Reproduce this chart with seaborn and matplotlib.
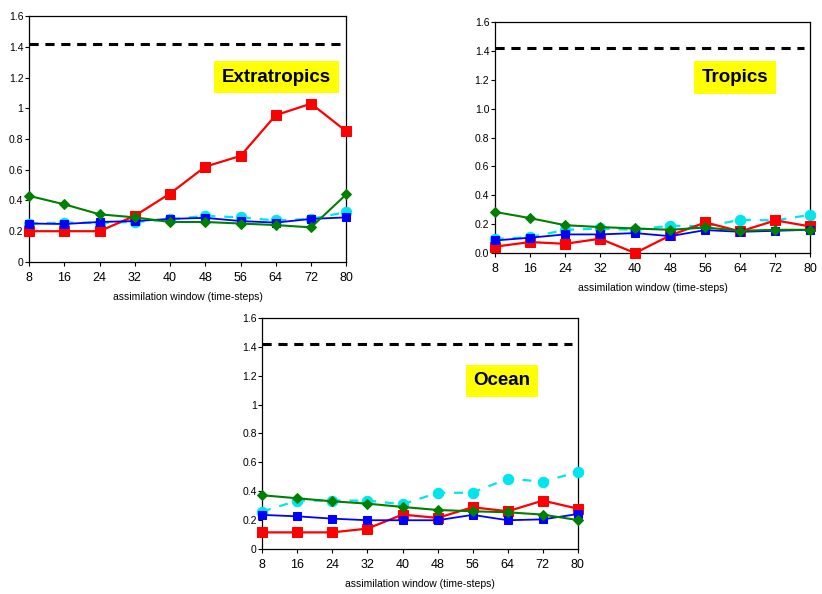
import numpy as np
import pandas as pd
import seaborn as sns
import matplotlib
matplotlib.use("Agg")
import matplotlib.pyplot as plt

# assimilation window (time-steps)
windows = [8, 16, 24, 32, 40, 48, 56, 64, 72, 80]

# Extratropics
extra_red = [0.20, 0.20, 0.20, 0.30, 0.445, 0.62, 0.69, 0.955, 1.03, 0.85]
extra_green = [0.43, 0.375, 0.31, 0.29, 0.26, 0.26, 0.25, 0.24, 0.225, 0.44]
extra_blue = [0.25, 0.247, 0.26, 0.266, 0.28, 0.287, 0.266, 0.256, 0.28, 0.29]
extra_cyan = [0.25, 0.256, 0.255, 0.26, 0.277, 0.30, 0.29, 0.27, 0.28, 0.325]

# Tropics
trop_red = [0.044, 0.076, 0.064, 0.099, 0.0, 0.122, 0.212, 0.15, 0.226, 0.184]
trop_green = [0.285, 0.242, 0.193, 0.18, 0.17, 0.161, 0.177, 0.154, 0.161, 0.161]
trop_blue = [0.087, 0.106, 0.129, 0.129, 0.138, 0.117, 0.159, 0.147, 0.154, 0.161]
trop_cyan = [0.097, 0.11, 0.16, 0.17, 0.16, 0.19, 0.184, 0.23, 0.226, 0.265]

# Ocean
ocean_red = [0.115, 0.115, 0.115, 0.141, 0.238, 0.215, 0.289, 0.261, 0.335, 0.279]
ocean_green = [0.372, 0.351, 0.33, 0.314, 0.291, 0.27, 0.261, 0.254, 0.238, 0.20]
ocean_blue = [0.236, 0.226, 0.21, 0.199, 0.199, 0.199, 0.236, 0.199, 0.205, 0.242]
ocean_cyan = [0.259, 0.335, 0.335, 0.335, 0.31, 0.388, 0.39, 0.487, 0.466, 0.533]

reference_level = 1.42

yticks = [0, 0.2, 0.4, 0.6, 0.8, 1.0, 1.2, 1.4, 1.6]
ylabels_short = ["0", "0.2", "0.4", "0.6", "0.8", "1", "1.2", "1.4", "1.6"]
ylabels_fixed = ["0.0", "0.2", "0.4", "0.6", "0.8", "1.0", "1.2", "1.4", "1.6"]

sns.set_style("ticks")
plt.rcParams["font.family"] = ["Liberation Sans", "DejaVu Sans"]
plt.rcParams["text.color"] = "black"
plt.rcParams["axes.labelcolor"] = "black"
plt.rcParams["xtick.color"] = "black"
plt.rcParams["ytick.color"] = "black"

# series styles: drawn in this order (cyan at bottom, green on top)
styles = {
    "cyan": dict(color="#00e5ee", marker="o", markersize=7.5, linewidth=1.6, linestyle=(0, (4, 4))),
    "red": dict(color="#ff0000", marker="s", markersize=6.5, linewidth=1.6, linestyle="-"),
    "blue": dict(color="#0000ff", marker="s", markersize=5.2, linewidth=1.3, linestyle="-"),
    "green": dict(color="#008000", marker="D", markersize=5, linewidth=1.5, linestyle="-"),
}

panels = [
    ("Extratropics", [0.0353, 0.559, 0.386, 0.414], ylabels_short,
     {"red": extra_red, "green": extra_green, "blue": extra_blue, "cyan": extra_cyan}, (0.78, 0.752)),
    ("Tropics", [0.602, 0.574, 0.384, 0.389], ylabels_fixed,
     {"red": trop_red, "green": trop_green, "blue": trop_blue, "cyan": trop_cyan}, (0.76, 0.76)),
    ("Ocean", [0.319, 0.0758, 0.384, 0.389], ylabels_short,
     {"red": ocean_red, "green": ocean_green, "blue": ocean_blue, "cyan": ocean_cyan}, (0.76, 0.727)),
]

fig = plt.figure(figsize=(8.22, 5.94), dpi=100)

for title, rect, ylabels, series, label_pos in panels:
    ax = fig.add_axes(rect)
    df = pd.DataFrame({"window": windows, **series})
    for name in ["cyan", "red", "blue", "green"]:
        st = styles[name]
        sns.lineplot(data=df, x="window", y=name, ax=ax, color=st["color"],
                     marker=st["marker"], markersize=st["markersize"],
                     markeredgecolor=st["color"], linewidth=st["linewidth"],
                     linestyle=st["linestyle"], clip_on=False, zorder=3)
    ax.axhline(reference_level, color="black", linewidth=2.2,
               linestyle=(0, (3, 2.2)), xmax=0.98, zorder=2)
    ax.set_xlim(8, 80)
    ax.set_ylim(0, 1.6)
    ax.set_xticks(windows)
    ax.set_yticks(yticks)
    ax.set_yticklabels(ylabels)
    ax.tick_params(axis="y", labelsize=7.5, length=3, width=0.8, pad=1)
    ax.tick_params(axis="x", labelsize=9, length=3, width=0.8, pad=4)
    ax.set_ylabel("")
    ax.set_xlabel("assimilation window (time-steps)", fontsize=7.5, labelpad=6)
    for sp in ax.spines.values():
        sp.set_visible(True)
        sp.set_linewidth(0.9)
        sp.set_color("black")
    ax.text(label_pos[0], label_pos[1], title, transform=ax.transAxes,
            ha="center", va="center", fontsize=13.5, fontweight="bold", color="black",
            bbox=dict(boxstyle="square,pad=0.42", facecolor="#ffff00", edgecolor="none"),
            zorder=5)

fig.savefig("out.png", dpi=100)
